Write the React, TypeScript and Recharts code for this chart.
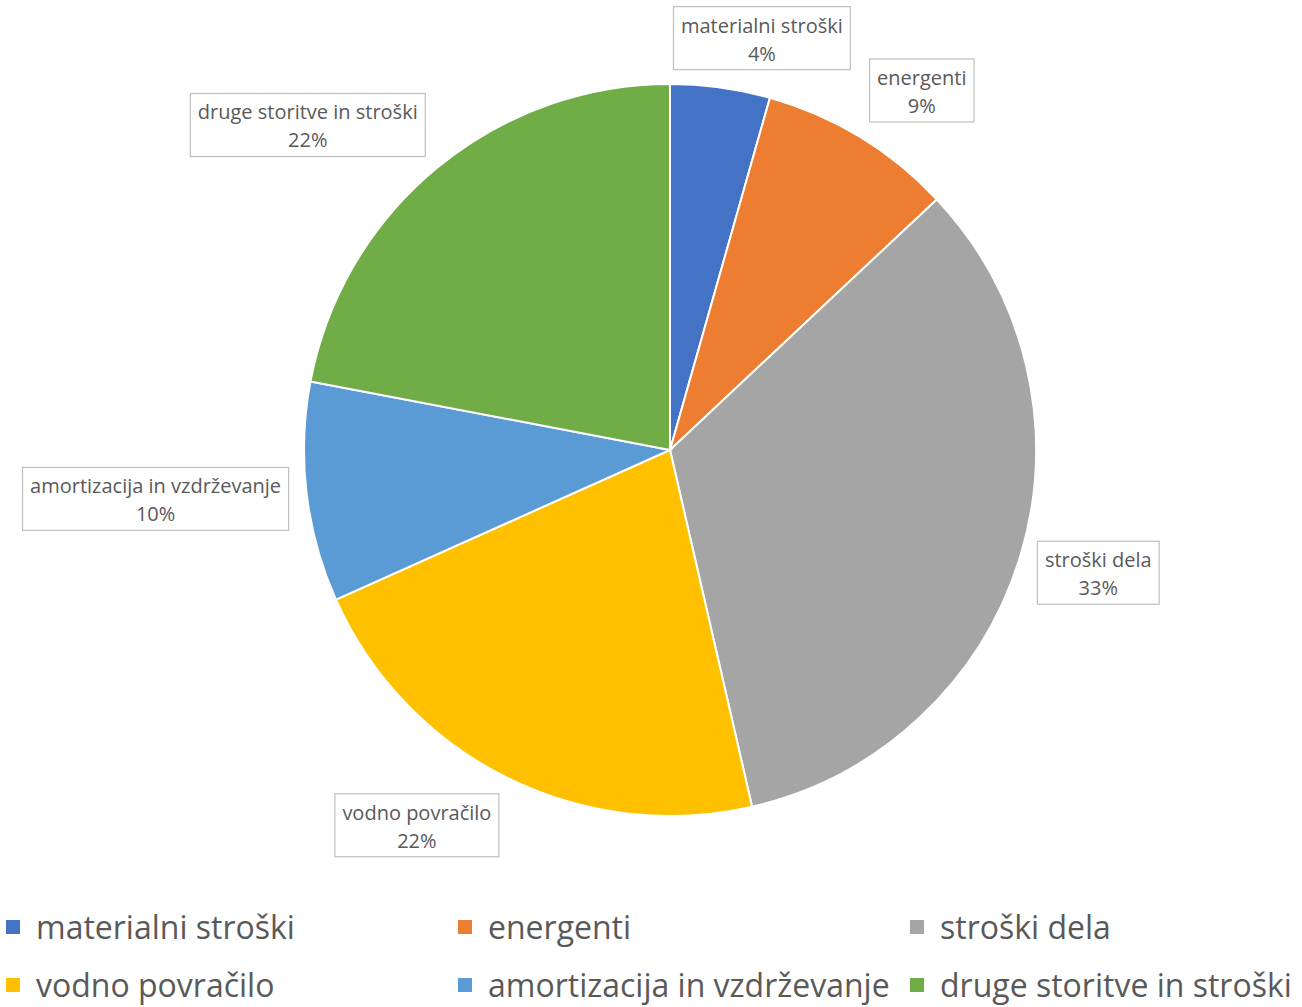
import React from 'react';
import { PieChart, Pie, Cell, Legend } from 'recharts';

const categories = [
  'materialni stroški',
  'energenti',
  'stroški dela',
  'vodno povračilo',
  'amortizacija in vzdrževanje',
  'druge storitve in stroški',
];
const shares = [4.4, 8.6, 33.4, 21.9, 9.7, 22.0];
const colors = ['#4472C4', '#ED7D31', '#A5A5A5', '#FFC000', '#5B9BD5', '#70AD47'];

const data = categories.map((name, i) => ({ name, value: shares[i] }));

const FONT = '"Open Sans", Lato, sans-serif';
const TEXT = '#595959';

let ctx: CanvasRenderingContext2D | null = null;
function measure(text: string, size: number) {
  if (!ctx) ctx = document.createElement('canvas').getContext('2d');
  if (!ctx) return text.length * size * 0.53;
  ctx.font = `${size}px "Open Sans"`;
  return ctx.measureText(text).width;
}

const LABEL_SIZE = 20;
const clamp = (v: number) => Math.max(0, Math.min(1, v));

const renderLabel = (props: any) => {
  const { cx, cy, midAngle, outerRadius, percent, name } = props;
  const rad = (-midAngle * Math.PI) / 180;
  const ux = Math.cos(rad);
  const uy = Math.sin(rad);
  const l1 = String(name);
  const l2 = `${Math.round(percent * 100)}%`;
  const w = Math.max(measure(l1, LABEL_SIZE), measure(l2, LABEL_SIZE)) + 15;
  const h = 63;
  const px = cx + (outerRadius + 18) * ux;
  const py = cy + (outerRadius + 18) * uy;
  const fx = clamp(0.5 - 1.6 * ux);
  const fy = clamp(0.5 - 0.6 * uy);
  const left = px - fx * w;
  const top = py - fy * h;
  const bx = left + w / 2;
  const by = top + h / 2;
  return (
    <g>
      <rect x={left} y={top} width={w} height={h} fill="#FFFFFF" stroke="#BFBFBF" strokeWidth={1.2} />
      <text x={bx} y={by - 13} textAnchor="middle" dominantBaseline="central" fill={TEXT} fontSize={LABEL_SIZE} fontFamily={FONT}>
        {l1}
      </text>
      <text x={bx} y={by + 15} textAnchor="middle" dominantBaseline="central" fill={TEXT} fontSize={LABEL_SIZE} fontFamily={FONT}>
        {l2}
      </text>
    </g>
  );
};

const renderLegend = () => (
  <div style={{ position: 'relative', width: 1302, height: 100 }}>
    {categories.map((n, i) => (
      <div
        key={n}
        style={{
          position: 'absolute',
          left: 6 + (i % 3) * 452,
          top: Math.floor(i / 3) * 58,
          height: 40,
          display: 'flex',
          alignItems: 'center',
          whiteSpace: 'nowrap',
        }}
      >
        <span style={{ display: 'inline-block', width: 14, height: 14, background: colors[i], marginRight: 16 }} />
        <span style={{ fontSize: 32, color: TEXT, fontFamily: FONT, lineHeight: '40px' }}>{n}</span>
      </div>
    ))}
  </div>
);

export default function App() {
  return (
    <div style={{ position: 'absolute', left: 0, top: 0, width: 1302, height: 1007, background: '#fff' }}>
      <PieChart width={1302} height={1007} margin={{ top: 0, right: 0, bottom: 0, left: 0 }}>
        <Pie
          data={data}
          dataKey="value"
          nameKey="name"
          cx={670}
          cy={450}
          outerRadius={366}
          startAngle={90}
          endAngle={-270}
          stroke="#FFFFFF"
          strokeWidth={2}
          label={renderLabel}
          labelLine={false}
          isAnimationActive={false}
        >
          {data.map((d, i) => (
            <Cell key={d.name} fill={colors[i]} />
          ))}
        </Pie>
        <Legend content={renderLegend} wrapperStyle={{ position: 'absolute', left: 0, top: 907, width: 1302 }} />
      </PieChart>
    </div>
  );
}
